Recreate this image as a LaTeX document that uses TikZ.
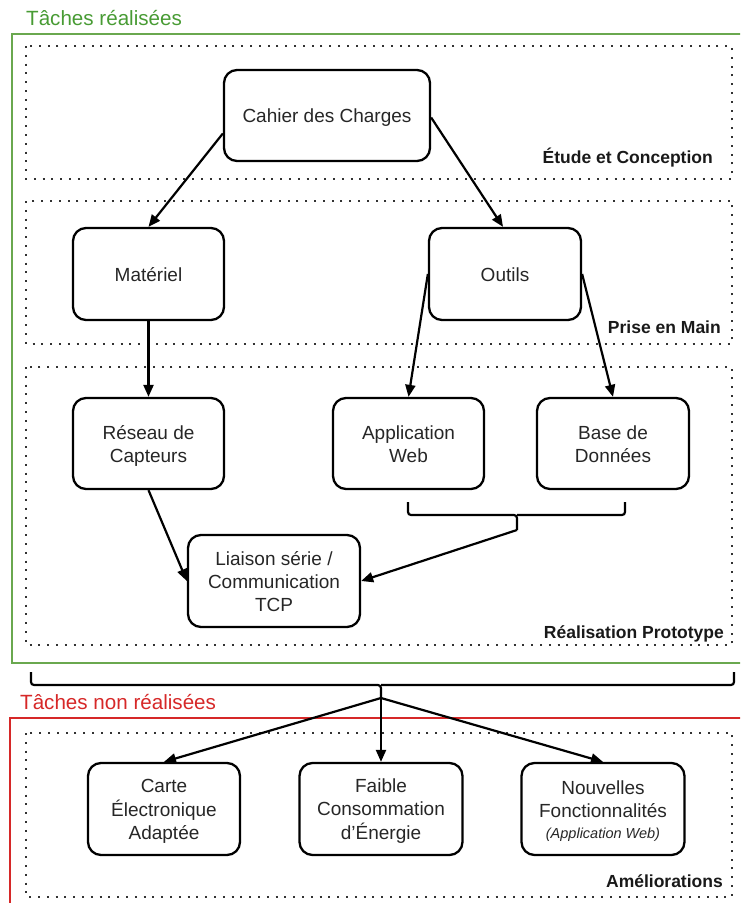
\documentclass[tikz,border=0pt]{standalone}
\usepackage{fontspec}
\setmainfont{Liberation Sans}
\usetikzlibrary{calc,arrows.meta}
\definecolor{doneline}{RGB}{106,168,79}
\definecolor{donetext}{RGB}{72,155,52}
\definecolor{todored}{RGB}{214,40,40}
\definecolor{dotgray}{RGB}{50,50,50}
% centred lines of a task, set slightly below the optical centre of the box
\newcommand{\tasklines}[1]{\raisebox{-2.5pt}[\height][\depth]{\begin{tabular}{@{}c@{}}#1\end{tabular}}}

\begin{document}
\begin{tikzpicture}[x=1pt,y=-1pt,
  taskbox/.style={draw, line width=2.3pt, rounded corners=13pt,
    inner sep=0pt, font=\fontsize{19}{23}\selectfont, text=black!85},
  phase/.style={draw=dotgray, line width=2pt, dash pattern=on 2pt off 6.8pt},
  phaselabel/.style={font=\bfseries\fontsize{17.5}{21}\selectfont,
    anchor=base east, inner sep=0pt, text=black!90},
  grouptitle/.style={font=\fontsize{20.6}{24}\selectfont, anchor=base west, inner sep=0pt},
  link/.style={line width=2.2pt, -{Triangle[length=12pt,width=10pt]}},
  brace/.style={line width=2.2pt, rounded corners=3pt},
]
\clip (0,0) rectangle (740,903);

% groups of tasks
\node[grouptitle, text=donetext] (donetitle) at (26,25) {Tâches réalisées};
\draw[doneline, line width=2pt] (12,34) rectangle (760,663);
\node[grouptitle, text=todored] (todotitle) at (20,709) {Tâches non réalisées};
\draw[todored, line width=2pt] (10,718) rectangle (760,920);

% phases
\draw[phase] (26,46) rectangle (732,179);
\draw[phase] (26,201) rectangle (732,344);
\draw[phase] (26,367) rectangle (732,645);
\draw[phase] (26,733) rectangle (732,897);
\node[phaselabel] (lbl1) at (713,163) {Étude et Conception};
\node[phaselabel] (lbl2) at (721,333) {Prise en Main};
\node[phaselabel] (lbl3) at (724,638) {Réalisation Prototype};
\node[phaselabel] (lbl4) at (723,887) {Améliorations};

% tasks
\node[taskbox, minimum width=206, minimum height=91] (cdc) at (327,115.5) {\tasklines{Cahier des Charges}};
\node[taskbox, minimum width=151, minimum height=92] (mat) at (148.5,274) {\tasklines{Matériel}};
\node[taskbox, minimum width=152, minimum height=92] (out) at (505,274) {\tasklines{Outils}};
\node[taskbox, minimum width=151, minimum height=91] (res) at (148.5,443.5) {\tasklines{Réseau de\\Capteurs}};
\node[taskbox, minimum width=151, minimum height=91] (app) at (408.5,443.5) {\tasklines{Application\\Web}};
\node[taskbox, minimum width=152, minimum height=91] (bdd) at (613,443.5) {\tasklines{Base de\\Données}};
\node[taskbox, minimum width=172, minimum height=92] (lia) at (274,581) {\tasklines{Liaison série /\\Communication\\TCP}};
\node[taskbox, minimum width=152, minimum height=92] (carte) at (164,809) {\tasklines{Carte\\Électronique\\Adaptée}};
\node[taskbox, minimum width=163, minimum height=92] (faible) at (381,809) {\tasklines{Faible\\Consommation\\d’Énergie}};
\node[taskbox, minimum width=163, minimum height=92] (nouv) at (603,809)
  {\tasklines{Nouvelles\\Fonctionnalités\\[-2pt]{\itshape\fontsize{14.5}{16}\selectfont (Application Web)}}};

% braces
\coordinate (b1) at (517,530);
\draw[brace] (408,502) |- (517,515) -- (b1);
\draw[brace] (625,502) |- (517,515);
\coordinate (b2) at (381,698);
\draw[brace] (31,672) |- (381,685) -- (b2);
\draw[brace] (734,672) |- (381,685);

% dependencies
\draw[link] ($(cdc.west)+(0,18)$) -- (mat.north);
\draw[link] ($(cdc.east)+(0,2)$) -- ($(out.north)+(-2,0)$);
\draw[link] (out.west) -- (app.north);
\draw[link] (out.east) -- (bdd.north);
\draw[link] (mat.south) -- (res.north);
\draw[link] (res.south) -- (lia.west);
\draw[link] (b1) -- (lia.east);
\draw[link] (b2) -- (carte.north);
\draw[link] (b2) -- (faible.north);
\draw[link] (b2) -- (nouv.north);
\end{tikzpicture}
\end{document}
